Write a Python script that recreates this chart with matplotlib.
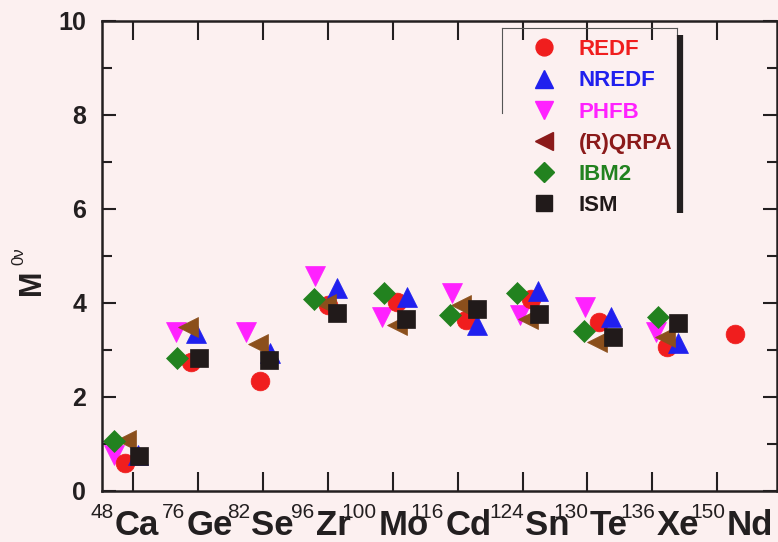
import matplotlib
matplotlib.use("Agg")
import matplotlib.pyplot as plt
from matplotlib.lines import Line2D

plt.rcParams['font.family'] = ['Liberation Sans', 'DejaVu Sans']

# nuclei on the x axis
elements = ["Ca", "Ge", "Se", "Zr", "Mo", "Cd", "Sn", "Te", "Xe", "Nd"]
masses = ["48", "76", "82", "96", "100", "116", "124", "130", "136", "150"]

# M0v values (x = position along nucleus axis)
redf_x = [0.88, 1.90, 2.95, 4.00, 5.06, 6.13, 7.13, 8.18, 9.22, 10.28]
redf_y = [0.59, 2.75, 2.34, 3.96, 4.03, 3.64, 4.08, 3.60, 3.07, 3.34]
nredf_x = [1.08, 1.97, 3.11, 4.14, 5.22, 6.30, 7.24, 8.36, 9.40]
nredf_y = [0.77, 3.36, 2.93, 4.31, 4.13, 3.53, 4.26, 3.71, 3.14]
phfb_x = [0.71, 1.67, 2.74, 3.80, 4.83, 5.92, 6.96, 7.97, 9.05]
phfb_y = [0.77, 3.39, 3.39, 4.57, 3.71, 4.21, 3.74, 3.92, 3.39]
qrpa_x = [0.90, 1.85, 2.93, 3.98, 5.06, 6.06, 7.09, 8.14, 9.20]
qrpa_y = [1.09, 3.48, 3.13, 3.98, 3.53, 3.96, 3.67, 3.18, 3.28]
ibm2_x = [0.71, 1.68, 3.79, 4.86, 5.88, 6.92, 7.95, 9.08]
ibm2_y = [1.07, 2.84, 4.08, 4.21, 3.74, 4.21, 3.40, 3.71]
ism_x = [1.09, 2.01, 3.10, 4.15, 5.21, 6.30, 7.26, 8.39, 9.40]
ism_y = [0.75, 2.84, 2.79, 3.78, 3.67, 3.87, 3.76, 3.28, 3.57]

bg = '#fcf0f0'
ink = '#231f20'
W, H = 778, 542

fig = plt.figure(figsize=(W / 100, H / 100), dpi=100, facecolor=bg)
ax = fig.add_axes([101.5 / W, 51 / H, (777 - 101.5) / W, 470 / H])
ax.set_facecolor(bg)

# drawing order matters for the overlaps
series = [
    # label, x, y, marker, size, data colour, legend colour
    ("PHFB", phfb_x, phfb_y, "v", 14, "#ff22ff", "#ff22ff"),
    ("REDF", redf_x, redf_y, "o", 13.5, "#f01e1e", "#f01e1e"),
    ("NREDF", nredf_x, nredf_y, "^", 14, "#2020ee", "#2020ee"),
    ("(R)QRPA", qrpa_x, qrpa_y, "<", 15, "#8b4f1c", "#8b1a1a"),
    ("IBM2", ibm2_x, ibm2_y, "D", 11.5, "#22821f", "#22821f"),
    ("ISM", ism_x, ism_y, "s", 12.5, "#211a1a", "#211a1a"),
]
for lab, xs, ys, mk, ms, col, lcol in series:
    ax.plot(xs, ys, ls="none", marker=mk, ms=ms, color=col, mec=col, mew=0.5)

ax.set_xlim(0.515, 10.92)
ax.set_ylim(0, 10)
ax.set_xticks(range(1, 11))
ax.set_xticklabels([])
ax.set_yticks([0, 2, 4, 6, 8, 10])
ax.set_yticks([1, 3, 5, 7, 9], minor=True)
ax.tick_params(axis="x", which="major", direction="in", length=14, width=1.5,
               color=ink, top=True, bottom=True)
ax.tick_params(axis="y", which="major", direction="in", length=10, width=1.5,
               color=ink, left=True, right=True, pad=11, labelsize=18,
               labelcolor=ink)
ax.tick_params(axis="y", which="minor", direction="in", length=7, width=1.5,
               color=ink, left=True, right=True)
for t in ax.get_yticklabels():
    t.set_fontweight("bold")
for s in ax.spines.values():
    s.set_linewidth(1.8)
    s.set_color(ink)

# nucleus labels with mass number as superscript
label_at = [0.72, 1.82, 2.82, 3.82, 4.78, 5.81, 7.04, 8.03, 9.07, 10.15]
for xl, el, a in zip(label_at, elements, masses):
    ax.annotate(a, (xl, 0), xycoords="data", xytext=(-1, -9),
                textcoords="offset points", ha="right", va="top",
                fontsize=15, color=ink, annotation_clip=False)
    ax.annotate(el, (xl, 0), xycoords="data", xytext=(0, -32),
                textcoords="offset points", ha="left", va="baseline",
                fontsize=25, fontweight="bold", color=ink,
                annotation_clip=False)

# y label M^0v
fig.text(32 / W, 1 - 282 / H, "M", rotation=90, ha="center", va="center",
         fontsize=22, fontweight="bold", color=ink)
fig.text(19 / W, 1 - 256 / H, "0\u03bd", rotation=90, ha="center",
         va="center", fontsize=12, color=ink)

# legend
handles = [Line2D([], [], ls="none", marker=mk, ms=ms * 0.9, color=lcol,
                  mec=lcol) for lab, xs, ys, mk, ms, col, lcol in series]
labels = [s[0] for s in series]
order = [1, 2, 0, 3, 4, 5]
leg = ax.legend([handles[i] for i in order], [labels[i] for i in order],
                loc="upper left", bbox_to_anchor=(522 / W, 1 - 28 / H),
                bbox_transform=fig.transFigure, frameon=False, borderpad=0,
                handlelength=1.0, handletextpad=1.04, labelspacing=0.46,
                prop={"size": 16, "weight": "bold"},
                labelcolor=[series[i][6] for i in order])

# legend frame: thin top/left line and heavy right bar
fig.add_artist(Line2D([502 / W, 677 / W], [1 - 28 / H, 1 - 28 / H],
                      color="#555555", lw=0.8))
fig.add_artist(Line2D([502 / W, 502 / W], [1 - 28 / H, 1 - 113 / H],
                      color="#555555", lw=0.8))
fig.add_artist(Line2D([677 / W, 677 / W], [1 - 28 / H, 1 - 35 / H],
                      color="#555555", lw=0.8))
fig.add_artist(Line2D([680 / W, 680 / W], [1 - 35 / H, 1 - 213 / H],
                      color=ink, lw=4.5, solid_capstyle="butt"))

fig.savefig("out.png", dpi=100, facecolor=bg)
